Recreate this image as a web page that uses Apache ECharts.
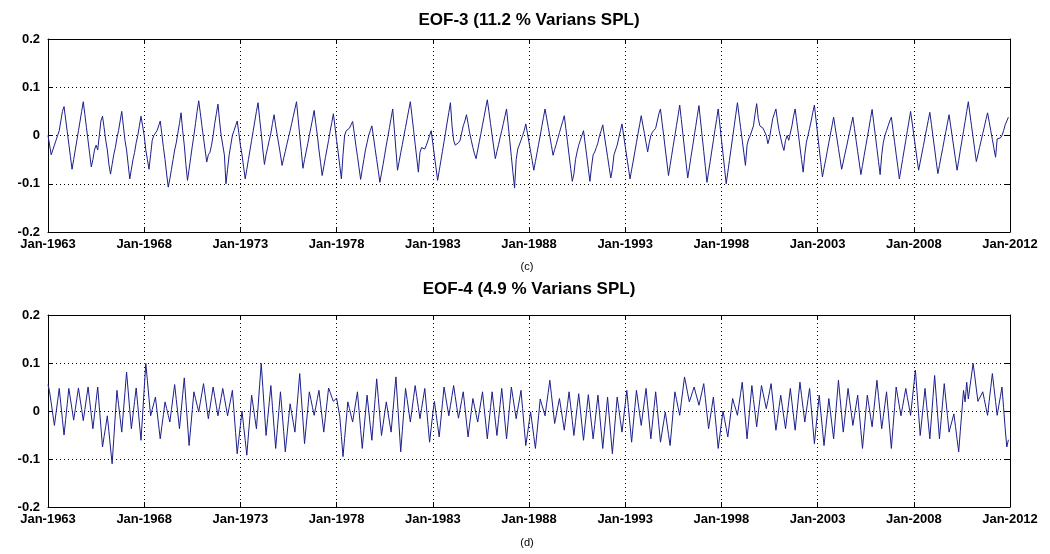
<!DOCTYPE html>
<html>
<head>
<meta charset="utf-8">
<script src="https://cdn.jsdelivr.net/npm/echarts@6/dist/echarts.min.js"></script>
<style>
  html, body { margin: 0; padding: 0; background: #fff; }
  #chart { width: 1050px; height: 554px; }
</style>
</head>
<body>
<div id="chart"></div>
<script>
// monthly values, Jan-1963 .. Dec-2012, one row per year
const eof3 = [
  0, -0.02, -0.04, -0.03, -0.02, -0.01, 0, 0.01, 0.03, 0.05, 0.06, 0.034,
  0.008, -0.018, -0.044, -0.07, -0.05, -0.03, -0.01, 0.01, 0.03, 0.05, 0.07, 0.043,
  0.016, -0.011, -0.038, -0.065, -0.05, -0.03, -0.02, -0.03, 0, 0.03, 0.04, 0.016,
  -0.01, -0.03, -0.06, -0.08, -0.06, -0.04, -0.025, -0.005, 0.01, 0.03, 0.05, 0.02,
  -0.01, -0.03, -0.06, -0.09, -0.07, -0.05, -0.035, -0.015, 0, 0.02, 0.04, 0.02,
  0, -0.03, -0.05, -0.07, -0.04, -0.01, 0, 0.005, 0.01, 0.02, 0.03, 0.003,
  -0.025, -0.05, -0.08, -0.107, -0.09, -0.07, -0.05, -0.03, -0.015, 0.005, 0.025, 0.047,
  0.01, -0.02, -0.06, -0.093, -0.07, -0.046, -0.022, 0, 0.025, 0.05, 0.072, 0.047,
  0.02, -0.005, -0.03, -0.055, -0.04, -0.035, -0.02, 0, 0.025, 0.045, 0.065, 0.03,
  0, -0.02, -0.04, -0.1, -0.07, -0.04, -0.02, 0, 0.01, 0.02, 0.03, 0.006,
  -0.02, -0.04, -0.065, -0.09, -0.07, -0.05, -0.03, -0.01, 0.01, 0.03, 0.05, 0.068,
  0.035, 0.005, -0.03, -0.06, -0.04, -0.025, -0.01, 0.005, 0.025, 0.043, 0.02, 0,
  -0.02, -0.04, -0.062, -0.047, -0.033, -0.018, -0.004, 0.01, 0.025, 0.04, 0.055, 0.07,
  0.035, 0, -0.033, -0.068, -0.05, -0.034, -0.017, 0, 0.017, 0.034, 0.052, 0.025,
  0, -0.03, -0.056, -0.083, -0.065, -0.046, -0.028, -0.01, 0.009, 0.027, 0.045, 0.018,
  -0.01, -0.036, -0.063, -0.09, -0.04, 0, 0.01, 0.01, 0.015, 0.022, 0.029, 0.005,
  -0.02, -0.043, -0.067, -0.091, -0.07, -0.05, -0.03, -0.015, 0, 0.01, 0.02, -0.003,
  -0.027, -0.05, -0.073, -0.097, -0.078, -0.06, -0.04, -0.02, -0.002, 0.017, 0.036, 0.055,
  0.013, -0.03, -0.072, -0.054, -0.036, -0.019, 0, 0.017, 0.035, 0.053, 0.07, 0.041,
  0.012, -0.018, -0.047, -0.076, -0.035, -0.025, -0.025, -0.028, -0.02, -0.01, 0, 0.01,
  -0.016, -0.042, -0.067, -0.093, -0.073, -0.053, -0.033, -0.013, 0.007, 0.028, 0.048, 0.068,
  0.02, -0.01, -0.02, -0.02, -0.015, -0.01, 0.005, 0.02, 0.03, 0.043, 0.025, 0.005,
  -0.01, -0.025, -0.038, -0.048, -0.03, -0.013, 0.004, 0.022, 0.039, 0.057, 0.074, 0.05,
  0.025, 0, -0.024, -0.048, -0.033, -0.019, -0.004, 0.01, 0.025, 0.04, 0.055, 0.022,
  -0.01, -0.044, -0.077, -0.109, -0.05, -0.028, -0.025, -0.01, 0, 0.01, 0.024, 0.005,
  -0.014, -0.033, -0.052, -0.072, -0.054, -0.036, -0.018, 0, 0.019, 0.037, 0.055, 0.036,
  0.017, -0.002, -0.021, -0.041, -0.029, -0.018, -0.006, 0.006, 0.018, 0.029, 0.041, 0.014,
  -0.013, -0.041, -0.068, -0.095, -0.08, -0.05, -0.034, -0.02, -0.01, 0, 0.01, -0.016,
  -0.042, -0.069, -0.095, -0.065, -0.04, -0.034, -0.025, -0.015, 0, 0.01, 0.022, 0,
  -0.022, -0.044, -0.066, -0.088, -0.07, -0.04, -0.03, -0.02, -0.005, 0.01, 0.024, 0.001,
  -0.022, -0.045, -0.067, -0.09, -0.071, -0.053, -0.034, -0.015, 0.004, 0.022, 0.041, 0.022,
  0.004, -0.015, -0.034, -0.015, 0, 0.007, 0.005, 0.015, 0.03, 0.045, 0.055, 0.027,
  0, -0.028, -0.055, -0.083, -0.062, -0.041, -0.02, 0, 0.021, 0.042, 0.063, 0.033,
  0.003, -0.028, -0.058, -0.088, -0.067, -0.045, -0.024, -0.002, 0.019, 0.041, 0.062, 0.03,
  -0.002, -0.033, -0.065, -0.097, -0.075, -0.054, -0.032, -0.01, 0.012, 0.033, 0.055, 0.024,
  -0.007, -0.038, -0.069, -0.1, -0.076, -0.052, -0.028, -0.004, 0.02, 0.044, 0.068, 0.042,
  0.016, -0.01, -0.036, -0.062, -0.02, -0.007, 0, 0, 0.02, 0.045, 0.066, 0.035,
  0.02, 0.018, 0.015, 0.015, 0, -0.017, -0.005, 0.015, 0.035, 0.045, 0.055, 0.03,
  0.01, -0.005, -0.02, -0.031, -0.01, 0, -0.01, 0.005, 0.02, 0.04, 0.055, 0.029,
  0.003, -0.024, -0.05, -0.076, -0.04, -0.014, 0, 0.015, 0.03, 0.048, 0.063, 0.033,
  0.003, -0.027, -0.056, -0.086, -0.068, -0.051, -0.033, -0.015, 0.003, 0.02, 0.038, 0.016,
  -0.005, -0.027, -0.048, -0.07, -0.055, -0.039, -0.024, -0.008, 0.007, 0.023, 0.038, 0.014,
  -0.01, -0.033, -0.057, -0.081, -0.062, -0.042, -0.023, -0.004, 0.015, 0.035, 0.054, 0.027,
  0, -0.027, -0.054, -0.081, -0.04, -0.014, 0, 0.01, 0.02, 0.03, 0.038, 0.012,
  -0.013, -0.039, -0.064, -0.09, -0.07, -0.05, -0.03, -0.01, 0.01, 0.03, 0.05, 0.026,
  0.001, -0.023, -0.048, -0.072, -0.055, -0.038, -0.021, -0.003, 0.014, 0.031, 0.048, 0.023,
  -0.003, -0.028, -0.054, -0.079, -0.062, -0.044, -0.027, -0.009, 0.008, 0.026, 0.043, 0.02,
  -0.003, -0.026, -0.049, -0.072, -0.052, -0.031, -0.011, 0.009, 0.029, 0.05, 0.07, 0.045,
  0.02, -0.004, -0.029, -0.054, -0.04, -0.025, -0.011, 0.004, 0.018, 0.033, 0.047, 0.029,
  0.01, -0.008, -0.027, -0.045, -0.007, -0.01, -0.005, 0, 0.01, 0.022, 0.03, 0.038
];

const eof4 = [
  0.055, 0.04, 0.017, -0.007, -0.03, -0.004, 0.021, 0.047, 0.015, -0.018, -0.05, -0.018,
  0.015, 0.047, 0.025, 0.003, -0.019, 0.003, 0.026, 0.048, 0.025, 0.003, -0.02, 0.003,
  0.027, 0.05, 0.021, -0.008, -0.037, -0.008, 0.021, 0.05, 0.008, -0.033, -0.075, -0.053,
  -0.032, -0.01, -0.043, -0.077, -0.11, -0.059, -0.008, 0.043, 0.014, -0.015, -0.044, -0.002,
  0.039, 0.081, 0.042, 0.002, -0.037, -0.009, 0.02, 0.048, 0.012, -0.025, -0.061, -0.008,
  0.046, 0.099, 0.063, 0.026, -0.01, 0.003, 0.016, 0.029, 0, -0.029, -0.058, -0.032,
  -0.007, 0.019, 0.005, -0.009, -0.023, 0.003, 0.029, 0.055, 0.024, -0.006, -0.037, -0.002,
  0.034, 0.069, 0.022, -0.025, -0.072, -0.035, 0.003, 0.04, 0.026, 0.012, -0.002, 0.018,
  0.037, 0.057, 0.033, 0.008, -0.016, 0.006, 0.028, 0.05, 0.03, 0.01, -0.01, 0.009,
  0.028, 0.047, 0.028, 0.009, -0.01, 0.008, 0.025, 0.043, -0.001, -0.045, -0.089, -0.059,
  -0.03, 0, -0.031, -0.061, -0.092, -0.05, -0.009, 0.033, 0.01, -0.014, -0.037, 0.008,
  0.054, 0.099, 0.049, -0.001, -0.051, -0.016, 0.018, 0.053, 0.009, -0.034, -0.078, -0.039,
  0.001, 0.04, -0.002, -0.043, -0.085, -0.052, -0.018, 0.015, -0.005, -0.024, -0.044, -0.003,
  0.037, 0.078, 0.029, -0.019, -0.068, -0.032, 0.004, 0.04, 0.024, 0.007, -0.009, 0.008,
  0.026, 0.043, 0.014, -0.015, -0.044, -0.013, 0.017, 0.048, 0.039, 0.029, 0.02, 0.023,
  0.027, 0.03, -0.012, -0.053, -0.095, -0.057, -0.019, 0.019, 0.005, -0.009, -0.023, -0.002,
  0.019, 0.04, 0.001, -0.039, -0.078, -0.041, -0.004, 0.033, 0.002, -0.03, -0.061, -0.018,
  0.024, 0.067, 0.028, -0.012, -0.051, -0.028, -0.004, 0.019, -0.002, -0.023, -0.044, -0.006,
  0.033, 0.071, 0.019, -0.033, -0.085, -0.041, 0.003, 0.047, 0.024, 0, -0.023, 0.002,
  0.028, 0.053, 0.03, 0.007, -0.016, 0.005, 0.026, 0.047, 0.01, -0.028, -0.065, -0.035,
  -0.005, 0.02, -0.005, -0.03, -0.054, -0.019, 0.015, 0.05, 0.03, 0.01, -0.01, 0.011,
  0.032, 0.053, 0.03, 0.007, -0.015, 0.003, 0.022, 0.04, 0.009, -0.023, -0.054, -0.027,
  -0.001, 0.026, 0.01, -0.007, -0.023, -0.002, 0.019, 0.04, 0.007, -0.025, -0.058, -0.025,
  0.007, 0.04, 0.01, -0.021, -0.051, -0.018, 0.014, 0.047, 0.012, -0.023, -0.058, -0.022,
  0.014, 0.05, 0.028, 0.006, -0.016, 0.004, 0.023, 0.043, 0.005, -0.034, -0.072, -0.049,
  -0.025, -0.002, -0.027, -0.053, -0.078, -0.044, -0.01, 0.025, 0.013, 0.002, -0.01, 0.015,
  0.039, 0.064, 0.034, 0.004, -0.026, -0.009, 0.009, 0.026, 0.004, -0.018, -0.04, -0.013,
  0.013, 0.04, 0.01, -0.02, -0.051, -0.022, 0.007, 0.036, 0.004, -0.029, -0.061, -0.029,
  0.002, 0.034, 0.003, -0.027, -0.058, -0.028, 0.003, 0.033, -0.004, -0.041, -0.078, -0.042,
  -0.007, 0.029, -0.01, -0.05, -0.089, -0.05, -0.01, 0.029, 0.005, -0.02, -0.044, -0.015,
  0.014, 0.043, 0.007, -0.029, -0.065, -0.029, 0.007, 0.043, 0.019, -0.006, -0.03, -0.004,
  0.021, 0.047, 0.012, -0.023, -0.058, -0.025, 0.007, 0.04, 0.005, -0.03, -0.065, -0.044,
  -0.023, -0.002, -0.025, -0.049, -0.072, -0.035, 0.003, 0.04, 0.024, 0.007, -0.009, 0.018,
  0.044, 0.071, 0.054, 0.036, 0.019, 0.029, 0.04, 0.05, 0.037, 0.025, 0.012, 0.027,
  0.042, 0.057, 0.026, -0.006, -0.037, -0.015, 0.007, 0.029, -0.007, -0.042, -0.078, -0.052,
  -0.026, 0, -0.018, -0.036, -0.054, -0.027, -0.001, 0.026, 0.014, 0.003, -0.009, 0.014,
  0.037, 0.06, 0.021, -0.019, -0.058, -0.021, 0.016, 0.053, 0.024, -0.004, -0.033, -0.004,
  0.024, 0.053, 0.037, 0.021, 0.005, 0.022, 0.04, 0.057, 0.025, -0.008, -0.04, -0.016,
  0.009, 0.033, 0.01, -0.014, -0.037, -0.009, 0.019, 0.047, 0.018, -0.011, -0.04, -0.007,
  0.027, 0.06, 0.032, 0.005, -0.023, 0, 0.024, 0.047, 0.009, -0.03, -0.068, -0.034,
  -0.001, 0.033, -0.002, -0.037, -0.072, -0.039, -0.007, 0.026, -0.002, -0.03, -0.058, -0.017,
  0.023, 0.064, 0.028, -0.008, -0.044, -0.014, 0.017, 0.047, 0.021, -0.004, -0.03, -0.009,
  0.012, 0.033, -0.004, -0.041, -0.078, -0.041, -0.004, 0.033, 0.011, -0.011, -0.033, -0.001,
  0.032, 0.064, 0.03, -0.003, -0.037, -0.011, 0.014, 0.04, 0.001, -0.039, -0.078, -0.035,
  0.007, 0.05, 0.03, 0.01, -0.01, 0.009, 0.028, 0.047, 0.028, 0.01, -0.009, 0.022,
  0.054, 0.085, 0.04, -0.006, -0.051, -0.018, 0.014, 0.047, 0.012, -0.023, -0.058, -0.014,
  0.03, 0.074, 0.03, -0.014, -0.058, -0.02, 0.019, 0.057, 0.023, -0.01, -0.044, -0.031,
  -0.019, -0.006, -0.032, -0.059, -0.085, -0.042, 0, 0.043, 0.019, 0.06, 0.025, 0.05,
  0.075, 0.099, 0.073, 0.046, 0.02, 0.027, 0.033, 0.04, 0.024, 0.007, -0.009, 0.02,
  0.049, 0.078, 0.049, 0.02, -0.009, 0.011, 0.03, 0.05, 0.007, -0.037, -0.075, -0.06
];

// tick labels every 60 months; the last one sits on the right edge of the box
const xTickLabels = ['Jan-1963', 'Jan-1968', 'Jan-1973', 'Jan-1978', 'Jan-1983',
  'Jan-1988', 'Jan-1993', 'Jan-1998', 'Jan-2003', 'Jan-2008', 'Jan-2012'];
const panelTitles = ['EOF-3 (11.2 % Varians SPL)', 'EOF-4 (4.9 % Varians SPL)'];
const panelTags = ['(c)', '(d)'];

const font = 'Liberation Sans, Arial, Helvetica, sans-serif';
const lineColor = '#1c1f8a';
const grids = [
  { left: 48, right: 40, top: 39, height: 193 },
  { left: 48, right: 40, top: 315, height: 192 }
];

const chart = echarts.init(document.getElementById('chart'));

function xAxes(g) {
  return [
    {
      gridIndex: g, type: 'value', min: 0, max: 600, interval: 60, position: 'bottom',
      axisLine: { show: true, onZero: false, lineStyle: { color: '#000', width: 1 } },
      axisTick: { show: true, inside: true, length: 5, lineStyle: { color: '#000' } },
      axisLabel: {
        show: true, margin: 6, color: '#000', fontSize: 13, fontWeight: 'bold', fontFamily: font,
        showMinLabel: true, showMaxLabel: true,
        formatter: function (v) { return xTickLabels[Math.round(v / 60)]; }
      },
      splitLine: { show: true, lineStyle: { color: '#000', width: 1, type: [1, 3] } }
    },
    {
      gridIndex: g, type: 'value', min: 0, max: 600, interval: 60, position: 'top',
      axisLine: { show: true, onZero: false, lineStyle: { color: '#000', width: 1 } },
      axisTick: { show: true, inside: true, length: 5, lineStyle: { color: '#000' } },
      axisLabel: { show: false },
      splitLine: { show: false }
    }
  ];
}

function yAxes(g) {
  return [
    {
      gridIndex: g, type: 'value', min: -0.2, max: 0.2, interval: 0.1, position: 'left',
      axisLine: { show: true, onZero: false, lineStyle: { color: '#000', width: 1 } },
      axisTick: { show: true, inside: true, length: 5, lineStyle: { color: '#000' } },
      axisLabel: { margin: 8, color: '#000', fontSize: 13, fontWeight: 'bold', fontFamily: font },
      splitLine: { show: true, lineStyle: { color: '#000', width: 1, type: [1, 3] } }
    },
    {
      gridIndex: g, type: 'value', min: -0.2, max: 0.2, interval: 0.1, position: 'right',
      axisLine: { show: true, onZero: false, lineStyle: { color: '#000', width: 1 } },
      axisTick: { show: true, inside: true, length: 5, lineStyle: { color: '#000' } },
      axisLabel: { show: false },
      splitLine: { show: false }
    }
  ];
}

const option = {
  backgroundColor: '#fff',
  animation: false,
  title: [
    { text: panelTitles[0], left: 529, top: 12, textAlign: 'center', padding: 0,
      textStyle: { fontSize: 17, fontWeight: 'bold', color: '#000', fontFamily: font } },
    { text: panelTags[0], left: 527, top: 261, textAlign: 'center', padding: 0,
      textStyle: { fontSize: 11, fontWeight: 'normal', color: '#000', fontFamily: font } },
    { text: panelTitles[1], left: 529, top: 281, textAlign: 'center', padding: 0,
      textStyle: { fontSize: 17, fontWeight: 'bold', color: '#000', fontFamily: font } },
    { text: panelTags[1], left: 527, top: 537, textAlign: 'center', padding: 0,
      textStyle: { fontSize: 11, fontWeight: 'normal', color: '#000', fontFamily: font } }
  ],
  grid: grids,
  xAxis: xAxes(0).concat(xAxes(1)),
  yAxis: yAxes(0).concat(yAxes(1)),
  series: [
    {
      type: 'line', xAxisIndex: 0, yAxisIndex: 0, showSymbol: false, symbol: 'none',
      lineStyle: { color: lineColor, width: 1 },
      data: eof3.map(function (v, i) { return [i, v]; })
    },
    {
      type: 'line', xAxisIndex: 2, yAxisIndex: 2, showSymbol: false, symbol: 'none',
      lineStyle: { color: lineColor, width: 1 },
      data: eof4.map(function (v, i) { return [i, v]; })
    }
  ]
};

chart.setOption(option);
</script>
</body>
</html>
